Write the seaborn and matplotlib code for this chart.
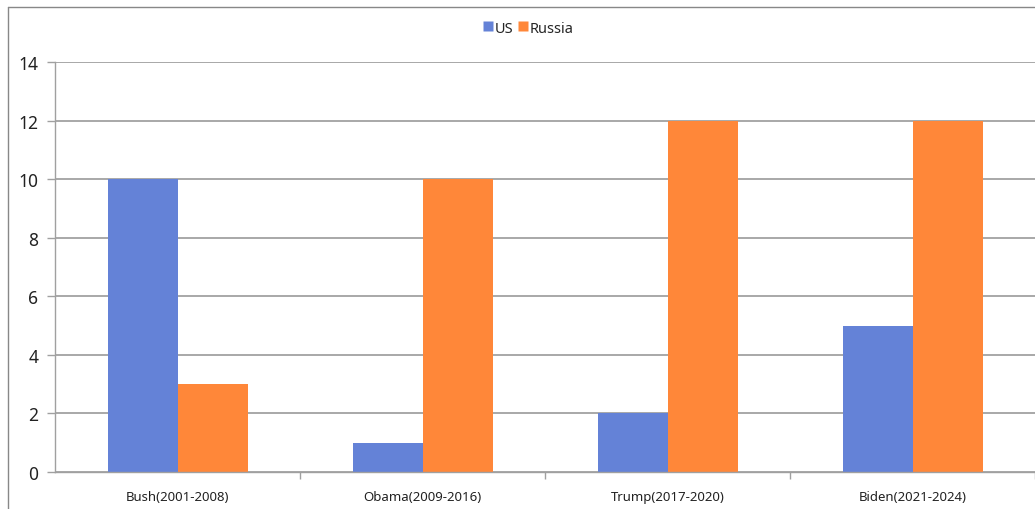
import matplotlib
matplotlib.use("Agg")
import matplotlib.pyplot as plt
import seaborn as sns
import pandas as pd
from matplotlib.lines import Line2D

categories = ["Bush(2001-2008)", "Obama(2009-2016)", "Trump(2017-2020)", "Biden(2021-2024)"]
us_values = [10, 1, 2, 5]
russia_values = [3, 10, 12, 12]
series = ["US", "Russia"]
colors = ["#6482D7", "#FF8739"]

df = pd.DataFrame({
    "period": categories * 2,
    "value": us_values + russia_values,
    "country": ["US"] * len(categories) + ["Russia"] * len(categories),
})

sns.set_theme(style="white")
plt.rcParams['font.family'] = ['Noto Sans', 'DejaVu Sans']

fig = plt.figure(figsize=(10.35, 5.1), dpi=100)
ax = fig.add_axes([55/1035, 37/510, 980/1035, 410/510])

sns.barplot(data=df, x="period", y="value", hue="country", hue_order=series,
            palette=colors, width=140/245, gap=0, saturation=1, ax=ax,
            edgecolor="none", linewidth=0, legend=False)

ax.set_xlim(-0.5, 3.5)
ax.set_ylim(0, 14)
ax.set_yticks(range(0, 15, 2))
ax.set_xlabel("")
ax.set_ylabel("")
ax.yaxis.grid(True, color="#999999", linewidth=1.2)
ax.set_axisbelow(True)
for s in ["top", "right"]:
    ax.spines[s].set_visible(False)
ax.spines["left"].set_color("#a0a0a0")
ax.spines["bottom"].set_color("#a0a0a0")
ax.spines["left"].set_linewidth(1)
ax.spines["bottom"].set_linewidth(1)

ax.tick_params(axis="y", labelsize=12.5, colors="#222222", length=6, width=1,
               left=True, pad=6)
ax.tick_params(axis="y", color="#a0a0a0")
ax.set_xticks([0, 1, 2, 3])
ax.set_xticklabels(categories, fontsize=9.5, color="#222222")
ax.tick_params(axis="x", bottom=False, pad=7)
ax.set_xticks([0.5, 1.5, 2.5, 3.5], minor=True)
ax.tick_params(axis="x", which="minor", bottom=True, length=5, width=1, color="#a0a0a0")

# outer frame (left and top edges)
fig.add_artist(Line2D([7.5/1035, 7.5/1035], [0, (510 - 8)/510], transform=fig.transFigure,
                      color="#888888", linewidth=1))
fig.add_artist(Line2D([7.5/1035, 1], [(510 - 8)/510, (510 - 8)/510], transform=fig.transFigure,
                      color="#888888", linewidth=1))

handles = [Line2D([], [], marker="s", linestyle="none", markersize=7,
                  markerfacecolor=c, markeredgecolor="none") for c in colors]
fig.legend(handles, series, loc="center", bbox_to_anchor=(0.51, 0.943), ncol=2,
           frameon=False, fontsize=10.5, handletextpad=0.1, columnspacing=0.2,
           handlelength=0.8)

fig.savefig("out.png", dpi=100)
